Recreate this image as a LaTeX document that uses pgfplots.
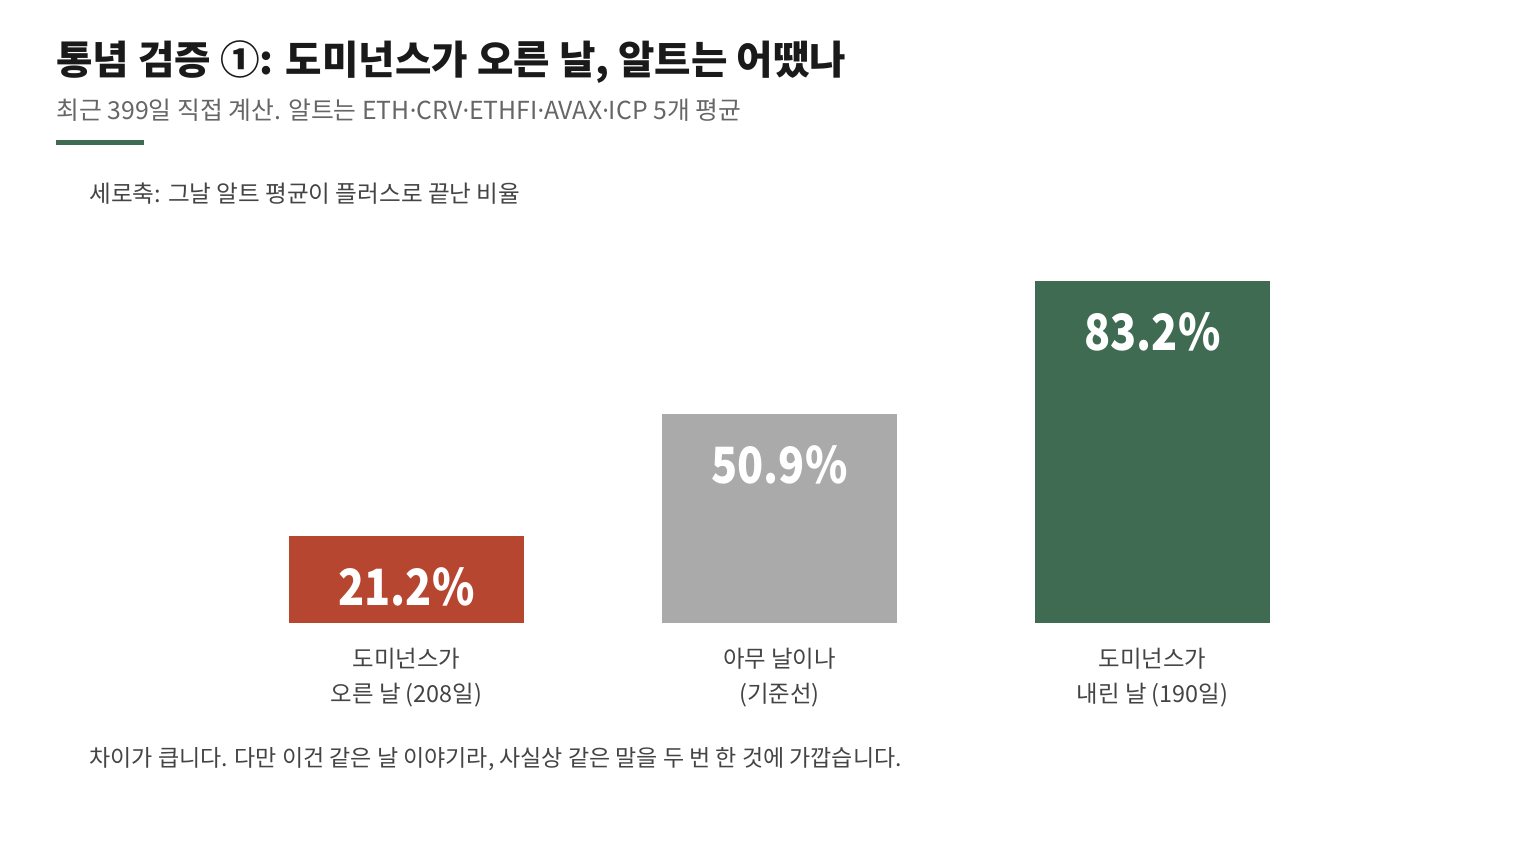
\documentclass[border=0pt]{standalone}
\usepackage{fontspec}
\setmainfont{Noto Sans CJK KR}
\newfontfamily\dotfont{Noto Sans}
\usepackage{graphicx}
\usepackage{pgfplots}
\pgfplotsset{compat=1.18}
\definecolor{cred}{HTML}{B74630}
\definecolor{cgray}{HTML}{AAAAAA}
\definecolor{cgreen}{HTML}{3E6B52}
\definecolor{ctitle}{HTML}{1A1A1A}
\definecolor{csub}{HTML}{666666}
\definecolor{clab}{HTML}{444444}
\newcommand{\md}{{\dotfont ·}}
\begin{document}
\begin{tikzpicture}
\path[use as bounding box, fill=white] (0,0) rectangle (760pt,-430pt);
\node[anchor=west, inner sep=0, text=ctitle, font=\bfseries\fontsize{19.8pt}{24pt}\selectfont] at (28pt,-31pt) {통념 검증 ①: 도미넌스가 오른 날, 알트는 어땠나};
\node[anchor=west, inner sep=0, text=csub, font=\fontsize{12.4pt}{14pt}\selectfont] at (28pt,-55pt) {최근 399일 직접 계산. 알트는 ETH\md CRV\md ETHFI\md AVAX\md ICP 5개 평균};
\fill[cgreen] (28pt,-70pt) rectangle (72pt,-72.5pt);
\node[anchor=west, inner sep=0, text=clab, font=\fontsize{11.8pt}{13pt}\selectfont] at (44.5pt,-97pt) {세로축: 그날 알트 평균이 플러스로 끝난 비율};
\node[anchor=west, inner sep=0, text=clab, font=\fontsize{11.5pt}{13pt}\selectfont] at (44.5pt,-379.5pt) {차이가 큽니다. 다만 이건 같은 날 이야기라, 사실상 같은 말을 두 번 한 것에 가깝습니다.};
\begin{axis}[
  at={(110pt,-311.5pt)}, anchor=south west,
  scale only axis, width=559.5pt, height=205.5pt,
  xmin=-0.5, xmax=2.5, ymin=0, ymax=100,
  ybar, bar width=117.5pt,
  axis line style={draw=none},
  major tick length=0pt,
  ytick=\empty,
  xtick={0,1,2},
  xticklabels={{도미넌스가\\오른 날 (208일)},{아무 날이나\\(기준선)},{도미넌스가\\내린 날 (190일)}},
  xticklabel style={align=center, inner sep=0pt, anchor=north, yshift=-12.5pt, text=clab, font=\fontsize{11.7pt}{17.5pt}\selectfont},
  /pgf/number format/assume math mode=true,
  nodes near coords={\scalebox{0.86}[1]{\pgfmathprintnumber[fixed,precision=1,fixed zerofill]{\pgfplotspointmeta}\%}},
  every node near coord/.append style={anchor=center, yshift=-25.5pt, text=white, font=\bfseries\fontsize{25pt}{25pt}\selectfont},
  clip=false,
]
\addplot[fill=cred, draw=none, bar shift=0pt] coordinates {(0,21.2)};
\addplot[fill=cgray, draw=none, bar shift=0pt] coordinates {(1,50.9)};
\addplot[fill=cgreen, draw=none, bar shift=0pt] coordinates {(2,83.2)};
\end{axis}
\end{tikzpicture}
\end{document}
